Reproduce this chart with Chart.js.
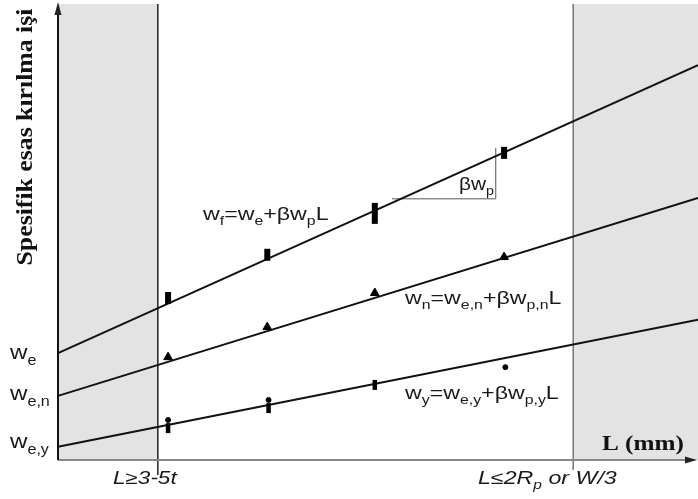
<!DOCTYPE html>
<html>
<head>
<meta charset="utf-8">
<script src="https://cdn.jsdelivr.net/npm/chart.js@4/dist/chart.umd.min.js"></script>
<style>
  html, body { margin: 0; padding: 0; background: #fff; }
</style>
</head>
<body>
<canvas id="chart" width="698" height="499"></canvas>
<script>
// axes are in arbitrary units: L (x) 0-100, specific work (y) 0-100
const lineEndsL = [0, 100];
const wfLine = [23.5, 86.8];   // w_f = w_e + b*w_p*L
const wnLine = [14.1, 57.6];   // w_n
const wyLine = [2.9, 30.8];    // w_y

const testL = [17.2, 32.7, 49.5, 69.7];
const wfPoints = [35.6, 45.1, 54.2, 67.5];
const wfBarSize = [6, 6, 10.5, 6];
const wnPoints = [22.6, 29.2, 36.7, 44.6];

const wyBarL = [17.2, 32.9, 49.5];
const wyBars = [7.0, 11.4, 16.5];
const wyDotL = [17.2, 32.9, 69.9];
const wyDots = [8.8, 13.2, 20.4];

// little slope triangle for beta*w_p
const slopeL = [52.2, 68.4, 68.4];
const slopeW = [57.4, 57.4, 68.6];

const validMin = 15.6;   // L >= 3-5t
const validMax = 80.5;   // L <= 2Rp or W/3

function pts(xs, ys) {
  return xs.map((v, i) => ({ x: v, y: ys[i] }));
}

// draws text with subscripts, parts = [[text, isSub], ...]
function richText(ctx, parts, x, y, size, italic, sx) {
  ctx.save();
  ctx.translate(x, y);
  ctx.scale(sx, 1);
  ctx.textBaseline = 'alphabetic';
  ctx.textAlign = 'left';
  let cx = 0;
  parts.forEach(p => {
    const s = p[1] ? Math.round(size * 0.68) : size;
    ctx.font = (italic ? 'italic ' : '') + s + 'px "Liberation Sans", Arial, sans-serif';
    ctx.fillText(p[0], cx, p[1] ? size * 0.28 : 0);
    cx += ctx.measureText(p[0]).width;
  });
  ctx.restore();
}

const decor = {
  id: 'decor',
  beforeDatasetsDraw(chart) {
    const ctx = chart.ctx;
    const x = chart.scales.x, y = chart.scales.y;
    const top = y.getPixelForValue(100) - 1;
    const bottom = y.getPixelForValue(0);
    const x0 = x.getPixelForValue(0);
    const xa = x.getPixelForValue(validMin);
    const xb = x.getPixelForValue(validMax);
    const x1 = x.getPixelForValue(100);
    ctx.save();
    ctx.fillStyle = '#e3e3e3';
    ctx.fillRect(x0, top, xa - x0, bottom - top);
    ctx.fillRect(xb, top, x1 - xb, bottom - top);
    // validity limits
    ctx.lineWidth = 1.5;
    ctx.strokeStyle = '#222';
    ctx.beginPath();
    ctx.moveTo(xa, top);
    ctx.lineTo(xa, bottom + 15);
    ctx.stroke();
    ctx.strokeStyle = '#777';
    ctx.beginPath();
    ctx.moveTo(xb, top);
    ctx.lineTo(xb, bottom + 10);
    ctx.stroke();
    ctx.restore();
  },
  afterDatasetsDraw(chart) {
    const ctx = chart.ctx;
    const x = chart.scales.x, y = chart.scales.y;
    const x0 = x.getPixelForValue(0);
    const y0 = y.getPixelForValue(0);
    ctx.save();
    // x axis with arrow
    ctx.strokeStyle = '#888';
    ctx.lineWidth = 2;
    ctx.beginPath();
    ctx.moveTo(x0, y0);
    ctx.lineTo(690, y0);
    ctx.stroke();
    ctx.fillStyle = '#222';
    ctx.beginPath();
    ctx.moveTo(697, y0);
    ctx.lineTo(685, y0 - 3.5);
    ctx.lineTo(685, y0 + 3.5);
    ctx.closePath();
    ctx.fill();
    // y axis with arrow
    ctx.strokeStyle = '#111';
    ctx.lineWidth = 2;
    ctx.beginPath();
    ctx.moveTo(x0, y0);
    ctx.lineTo(x0, 12);
    ctx.stroke();
    ctx.beginPath();
    ctx.moveTo(x0, 2);
    ctx.lineTo(x0 - 3.5, 15);
    ctx.lineTo(x0 + 3.5, 15);
    ctx.closePath();
    ctx.fill();

    ctx.fillStyle = '#1a1a1a';
    richText(ctx, [['w', 0], ['f', 1], ['=w', 0], ['e', 1], ['+\u03b2w', 0], ['p', 1], ['L', 0]], 203, 220, 19, false, 1.22);
    richText(ctx, [['w', 0], ['n', 1], ['=w', 0], ['e,n', 1], ['+\u03b2w', 0], ['p,n', 1], ['L', 0]], 405, 304, 19, false, 1.22);
    richText(ctx, [['w', 0], ['y', 1], ['=w', 0], ['e,y', 1], ['+\u03b2w', 0], ['p,y', 1], ['L', 0]], 405, 399, 19, false, 1.22);
    richText(ctx, [['\u03b2w', 0], ['p', 1]], 459, 190, 19, false, 1.1);
    richText(ctx, [['w', 0], ['e', 1]], 10, 359, 21, false, 1.15);
    richText(ctx, [['w', 0], ['e,n', 1]], 10, 400, 21, false, 1.15);
    richText(ctx, [['w', 0], ['e,y', 1]], 10, 448, 21, false, 1.15);
    richText(ctx, [['L\u22653-5t', 0]], 113, 484, 18, true, 1.25);
    richText(ctx, [['L\u22642R', 0], ['p', 1], [' or W/3', 0]], 478, 484, 18, true, 1.29);

    ctx.fillStyle = '#111';
    ctx.font = 'bold 21px "Liberation Serif", "Times New Roman", serif';
    ctx.textAlign = 'left';
    ctx.textBaseline = 'alphabetic';
    ctx.save();
    ctx.translate(602, 450);
    ctx.scale(1.2, 1);
    ctx.fillText('L (mm)', 0, 0);
    ctx.restore();

    ctx.translate(32, 137);
    ctx.rotate(-Math.PI / 2);
    ctx.scale(1.12, 1);
    ctx.textAlign = 'center';
    ctx.font = 'bold 23px "Liberation Serif", "Times New Roman", serif';
    ctx.fillText('Spesifik esas k\u0131r\u0131lma i\u015fi', 0, 0);
    ctx.restore();
  }
};

const fitStyle = { showLine: true, borderColor: '#111', borderWidth: 2, pointRadius: 0, fill: false, clip: false };

new Chart(document.getElementById('chart'), {
  type: 'scatter',
  data: {
    datasets: [
      {
        label: 'wf data',
        data: pts(testL, wfPoints),
        pointStyle: 'line',
        rotation: 90,
        pointRadius: wfBarSize,
        pointBorderWidth: 6,
        borderColor: '#000',
        backgroundColor: '#000'
      },
      {
        label: 'wn data',
        data: pts(testL, wnPoints),
        pointStyle: 'triangle',
        pointRadius: 5,
        borderColor: '#000',
        backgroundColor: '#000'
      },
      {
        label: 'wy bars',
        data: pts(wyBarL, wyBars),
        pointStyle: 'line',
        rotation: 90,
        pointRadius: 5,
        pointBorderWidth: 4.5,
        borderColor: '#000',
        backgroundColor: '#000'
      },
      {
        label: 'wy dots',
        data: pts(wyDotL, wyDots),
        pointStyle: 'circle',
        pointRadius: 2.5,
        borderColor: '#000',
        backgroundColor: '#000'
      },
      Object.assign({ label: 'wf', data: pts(lineEndsL, wfLine) }, fitStyle),
      Object.assign({ label: 'wn', data: pts(lineEndsL, wnLine) }, fitStyle),
      Object.assign({ label: 'wy', data: pts(lineEndsL, wyLine) }, fitStyle),
      {
        label: 'slope',
        data: pts(slopeL, slopeW),
        showLine: true,
        borderColor: '#555',
        borderWidth: 1,
        pointRadius: 0
      }
    ]
  },
  options: {
    responsive: false,
    animation: false,
    devicePixelRatio: 1,
    // right/top padding kept wide so the point overflow doesn't move the plot;
    // the axis maxima are cut back to match (100 still lands at the canvas edge)
    layout: { padding: { left: 58, right: 20, top: 20, bottom: 39 } },
    plugins: { legend: { display: false }, tooltip: { enabled: false } },
    scales: {
      x: { type: 'linear', min: 0, max: 96.875, display: false },
      y: { type: 'linear', min: 0, max: 96.70, display: false }
    }
  },
  plugins: [decor]
});
</script>
</body>
</html>
